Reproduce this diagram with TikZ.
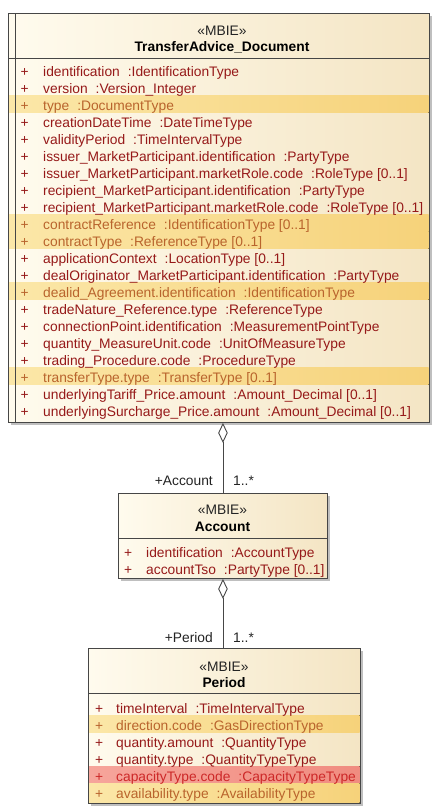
\documentclass[tikz,border=0pt]{standalone}
\usepackage{fontspec}
\setmainfont{Liberation Sans}
\usetikzlibrary{arrows.meta}
\definecolor{txt}{RGB}{150,25,25}
\definecolor{hitxt}{RGB}{185,100,45}
\definecolor{redtxt}{RGB}{205,40,40}
\definecolor{edge}{RGB}{70,70,70}
\definecolor{labtxt}{RGB}{35,35,35}
\definecolor{fillL}{RGB}{255,251,238}
\definecolor{fillR}{RGB}{244,229,196}
\definecolor{hiL}{RGB}{251,231,168}
\definecolor{hiR}{RGB}{246,210,122}
\definecolor{redL}{RGB}{246,165,155}
\definecolor{redR}{RGB}{240,140,128}
\newcommand{\gapp}{\hspace{8pt}}
\tikzset{
  classbox/.style={draw=edge, line width=0.9pt, left color=fillL, right color=fillR, inner sep=0pt, anchor=north west},
  shadowbox/.style={fill=black!25, draw=none},
  hiband/.style={left color=hiL, right color=hiR, draw=none},
  redband/.style={left color=redL, right color=redR, draw=none},
  divider/.style={draw=edge, line width=0.9pt},
  attr/.style={anchor=base west, inner sep=0pt, font=\fontsize{13.8}{15}\selectfont},
  stereo/.style={anchor=base, inner sep=0pt, font=\fontsize{13.8}{15}\selectfont, text=labtxt},
  cname/.style={anchor=base, inner sep=0pt, font=\fontsize{13.8}{15}\selectfont\bfseries, text=black},
  rolelab/.style={inner sep=0pt, font=\fontsize{13.8}{15}\selectfont, text=labtxt},
  assoc/.style={draw=edge, line width=0.9pt, {Diamond[open, fill=white, length=20pt, width=9.5pt]}-},
}
\begin{document}
\begin{tikzpicture}[x=1pt,y=-1pt]
\useasboundingbox (0,0) rectangle (436,807);
% ---------------- TransferAdvice_Document ----------------
\fill[shadowbox] (10.5,15.5) rectangle (431.5,424.5);
\node[classbox, minimum width=421pt, minimum height=409pt] (doc) at (8,13) {};
\foreach \i in {3,10,11,14,19}{
  \fill[hiband] (8.5,{71.7+17*(\i-1)-9.8}) rectangle (428.5,{71.7+17*(\i-1)+7.2});
}
\draw[divider] (doc.north west) rectangle (doc.south east);
\draw[divider] (8,58) -- (429,58);
\draw[divider] (15,13) -- (15,422);
\node[stereo] (docst) at (222,35) {«MBIE»};
\node[cname] (docnm) at (222,51) {TransferAdvice\_Document};
\foreach \i/\nm/\ty/\c in {
  1/identification/IdentificationType/txt,
  2/version/Version\_Integer/txt,
  3/type/DocumentType/hitxt,
  4/creationDateTime/DateTimeType/txt,
  5/validityPeriod/TimeIntervalType/txt,
  6/issuer\_MarketParticipant.identification/PartyType/txt,
  7/issuer\_MarketParticipant.marketRole.code/RoleType [0..1]/txt,
  8/recipient\_MarketParticipant.identification/PartyType/txt,
  9/recipient\_MarketParticipant.marketRole.code/RoleType [0..1]/txt,
  10/contractReference/IdentificationType [0..1]/hitxt,
  11/contractType/ReferenceType [0..1]/hitxt,
  12/applicationContext/LocationType [0..1]/txt,
  13/dealOriginator\_MarketParticipant.identification/PartyType/txt,
  14/dealid\_Agreement.identification/IdentificationType/hitxt,
  15/tradeNature\_Reference.type/ReferenceType/txt,
  16/connectionPoint.identification/MeasurementPointType/txt,
  17/quantity\_MeasureUnit.code/UnitOfMeasureType/txt,
  18/trading\_Procedure.code/ProcedureType/txt,
  19/transferType.type/TransferType [0..1]/hitxt,
  20/underlyingTariff\_Price.amount/Amount\_Decimal [0..1]/txt,
  21/underlyingSurcharge\_Price.amount/Amount\_Decimal [0..1]/txt}{
  \node[attr, text=\c] (dp\i) at (20.5,{71.7+17*(\i-1)+5}) {+};
  \node[attr, text=\c] (da\i) at (43,{71.7+17*(\i-1)+5}) {\nm\gapp:\ty};
}
% ---------------- Account ----------------
\fill[shadowbox] (120.5,495.5) rectangle (329.5,580.5);
\node[classbox, minimum width=209pt, minimum height=85pt] (acc) at (118,493) {};
\draw[divider] (118,538) -- (327,538);
\node[stereo] (accst) at (222.5,514) {«MBIE»};
\node[cname] (accnm) at (222.5,531) {Account};
\node[attr, text=txt] (ap1) at (124,557.7) {+};
\node[attr, text=txt] (aa1) at (146,557.7) {identification\gapp:AccountType};
\node[attr, text=txt] (ap2) at (124,574.7) {+};
\node[attr, text=txt] (aa2) at (146,574.7) {accountTso\gapp:PartyType [0..1]};
% ---------------- Period ----------------
\fill[shadowbox] (90.5,650.5) rectangle (362.5,805.5);
\node[classbox, minimum width=272pt, minimum height=155pt] (per) at (88,648) {};
\fill[hiband] (88.5,{725.7-10.5}) rectangle (359.5,{725.7+6.5});
\fill[redband] (88.5,{776.7-10.5}) rectangle (359.5,{776.7+6.5});
\fill[hiband] (88.5,{793.7-10.5}) rectangle (359.5,802.5);
\draw[divider] (per.north west) rectangle (per.south east);
\draw[divider] (88,693) -- (360,693);
\node[stereo] (perst) at (224,671.7) {«MBIE»};
\node[cname] (pernm) at (224,687) {Period};
\foreach \i/\nm/\ty/\c in {
  1/timeInterval/TimeIntervalType/txt,
  2/direction.code/GasDirectionType/hitxt,
  3/quantity.amount/QuantityType/txt,
  4/quantity.type/QuantityTypeType/txt,
  5/capacityType.code/CapacityTypeType/redtxt,
  6/availability.type/AvailabilityType/hitxt}{
  \node[attr, text=\c] (pp\i) at (95,{708.3+17*(\i-1)+5}) {+};
  \node[attr, text=\c] (pa\i) at (116,{708.3+17*(\i-1)+5}) {\nm\gapp:\ty};
}
% ---------------- Associations ----------------
\draw[assoc] (acc.north |- doc.south) -- (acc.north);
\draw[assoc] (acc.south) -- (acc.south |- per.north);
\node[rolelab, anchor=base east] (r1) at (213,485.7) {+Account};
\node[rolelab, anchor=base west] (m1) at (233,485.7) {1..*};
\node[rolelab, anchor=base east] (r2) at (213,642) {+Period};
\node[rolelab, anchor=base west] (m2) at (233,642) {1..*};
\end{tikzpicture}
\end{document}
